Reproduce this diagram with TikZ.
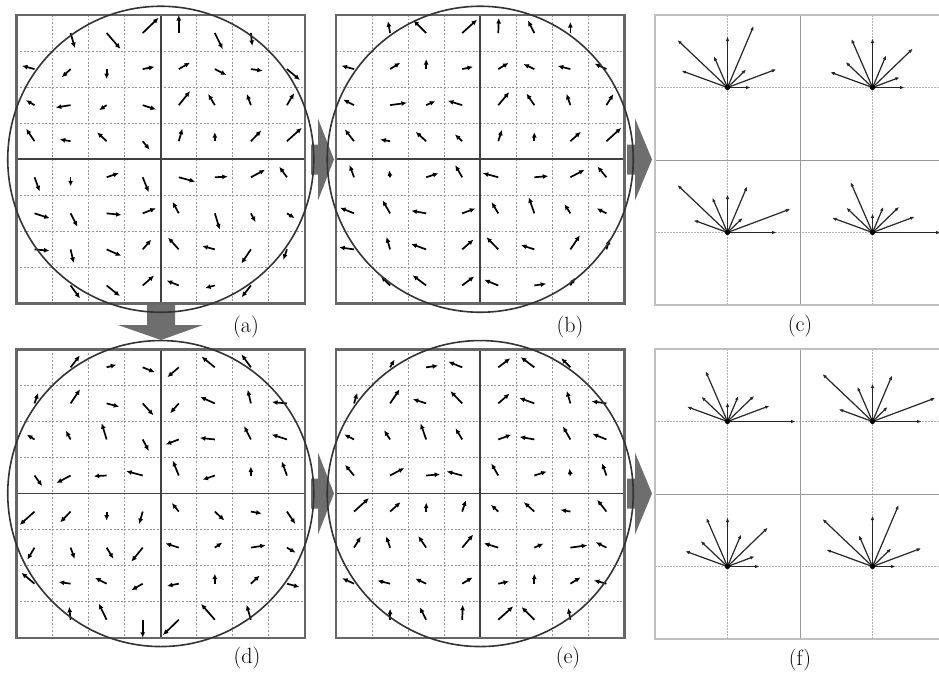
\documentclass[tikz,border=0pt]{standalone}
\usetikzlibrary{arrows.meta}
\begin{document}
\begin{tikzpicture}[x=1pt,y=-1pt,
  dotline/.style={draw=black!42,line width=1.1pt,dash pattern=on 1.8pt off 1.8pt},
  midline/.style={draw=black!75,line width=1.6pt},
  frameline/.style={draw=black!60,line width=2.4pt},
  bigcircle/.style={draw=black!80,line width=1.6pt},
  gridarrow/.style={draw=black,line width=1.7pt,-{Latex[length=5.5pt,width=5pt]}},
  histframe/.style={draw=black!25,line width=1.5pt},
  histmid/.style={draw=black!40,line width=1pt},
  histdash/.style={draw=black!30,line width=0.8pt,dash pattern=on 1.5pt off 1.5pt},
  histarrow/.style={draw=black!85,line width=1.2pt,-{Latex[length=4.5pt,width=3.5pt]}},
  histdot/.style={fill=black},
  bigarrow/.style={fill=black!57},
  lbl/.style={font=\fontsize{22}{26}\selectfont,inner sep=0pt}]
\useasboundingbox (0,0) rectangle (939,678);

\newcommand\mygridpanel[2]{%
  \foreach \i in {1,2,3,5,6,7}{
    \draw[dotline] ({#1+\i*36.06},#2) -- ++(0,288.5);
    \draw[dotline] (#1,{#2+\i*36.06}) -- ++(288.5,0);
  }
  \draw[midline] ({#1+144.25},#2) -- ++(0,288.5);
  \draw[midline] (#1,{#2+144.25}) -- ++(288.5,0);
  \draw[frameline] (#1,#2) rectangle ++(288.5,288.5);
}
\newcommand\myhistpanel[2]{%
  \foreach \i in {72.5,217.5}{
    \draw[histdash] ({#1+\i},#2) -- ++(0,290);
    \draw[histdash] (#1,{#2+\i}) -- ++(290,0);
  }
  \draw[histmid] ({#1+145},#2) -- ++(0,290);
  \draw[histmid] (#1,{#2+145}) -- ++(290,0);
  \draw[histframe] (#1,#2) rectangle ++(290,290);
}
\newcommand\myhiststar[9]{%
  \draw[histarrow] #1 -- ++(0:#2 pt);
  \draw[histarrow] #1 -- ++(20.5:#3 pt);
  \draw[histarrow] #1 -- ++(44:#4 pt);
  \draw[histarrow] #1 -- ++(67:#5 pt);
  \draw[histarrow] #1 -- ++(90:#6 pt);
  \draw[histarrow] #1 -- ++(113.5:#7 pt);
  \draw[histarrow] #1 -- ++(136.5:#8 pt);
  \draw[histarrow] #1 -- ++(160:#9 pt);
  \fill[histdot] #1 circle[radius=2.6];
}
% right-pointing fat arrow: shaft start, head base, tip, centre y
\newcommand\myfatarrow[4]{%
  \fill[bigarrow] (#1,{#4-15}) -- (#2,{#4-15}) -- (#2,{#4-41}) -- (#3,#4) -- (#2,{#4+41}) -- (#2,{#4+15}) -- (#1,{#4+15}) -- cycle;
}

\def\arrowsA{1/2/-74/15.6, 1/3/-49/21, 1/4/44/22, 1/5/90/18, 1/6/-64/18, 1/7/-84/13,
 2/1/165/13, 2/2/-137/12, 2/3/-90/10, 2/4/11/12, 2/5/30/13, 2/6/-27/13, 2/7/-8/12, 2/8/-40/17,
 3/1/150/10, 3/2/189/15, 3/3/-146/9, 3/4/-18/14, 3/5/51/18, 3/6/121/13, 3/7/110/12, 3/8/59/14,
 4/1/124/15, 4/2/170/11, 4/3/137/13, 4/4/-51/11, 4/5/74/13, 4/6/90/9, 4/7/46/15, 4/8/42/20,
 5/1/-70/15, 5/2/-90/9, 5/3/19/13, 5/4/-68/16, 5/5/-15/17, 5/6/3/13, 5/7/28/16, 5/8/126/13,
 6/1/-18/16, 6/2/-63/15, 6/3/-6/15, 6/4/21/14, 6/5/118/13, 6/6/-73/17, 6/7/-62/10, 6/8/-32/9,
 7/1/-5/15, 7/2/-77/14, 7/3/-24/16, 7/4/49/13, 7/5/132/16, 7/6/165/13, 7/7/-124/17, 7/8/-109/11,
 8/2/-54/16, 8/3/-39/17, 8/4/41/15, 8/5/158/13, 8/6/195/10, 8/7/-128/15}
\def\arrowsB{1/2/100/12, 1/3/135/18, 1/4/42/20, 1/5/88/15, 1/6/117/14, 1/7/90/11,
 2/1/165/13, 2/2/32/12, 2/3/90/10, 2/4/12/11, 2/5/31/12, 2/6/155/12, 2/7/166/13, 2/8/155/13,
 3/1/153/12, 3/2/8/17, 3/3/24/10, 3/4/163/15, 3/5/50/17, 3/6/124/14, 3/7/109/12, 3/8/58/13,
 4/1/128/15, 4/2/170/10, 4/3/138/14, 4/4/137/10, 4/5/72/12, 4/6/90/9, 4/7/42/14, 4/8/42/20,
 5/1/110/13, 5/2/97/7, 5/3/18/13, 5/4/120/14, 5/5/165/16, 5/6/5/14, 5/7/28/16, 5/8/130/14,
 6/1/158/15, 6/2/120/15, 6/3/170/15, 6/4/20/14, 6/5/121/13, 6/6/109/17, 6/7/123/11, 6/8/153/11,
 7/1/172/15, 7/2/106/13, 7/3/160/16, 7/4/41/15, 7/5/134/17, 7/6/162/14, 7/7/56/17, 7/8/73/11,
 8/2/135/13, 8/3/143/17, 8/4/37/15, 8/5/158/15, 8/6/8/12, 8/7/60/9}

% big gray arrows (under everything)
\myfatarrow{311}{318}{334}{159.5}
\myfatarrow{627}{635}{652}{159.5}
\myfatarrow{311}{318}{334}{493.5}
\myfatarrow{627}{635}{652}{493.5}
\fill[bigarrow] (147,305) -- (175,305) -- (175,325) -- (203,325) -- (161,340) -- (118,325) -- (147,325) -- cycle;

% grids
\mygridpanel{16.5}{15}
\mygridpanel{336}{15}
\mygridpanel{16.5}{349.3}
\mygridpanel{336}{349.3}

% arrows (a)
\foreach \r/\c/\a/\l in \arrowsA {
  \draw[gridarrow] ({16.5+(\c-0.5)*36.06},{15+(\r-0.5)*36.06}) -- ++(\a:\l pt);
}
% arrows (d): (a) turned by 180 degrees
\foreach \r/\c/\a/\l in \arrowsA {
  \draw[gridarrow] ({16.5+(8.5-\c)*36.06},{349.3+(8.5-\r)*36.06}) -- ++({\a+180}:\l pt);
}
% arrows (b)
\foreach \r/\c/\a/\l in \arrowsB {
  \draw[gridarrow] ({336+(\c-0.5)*36.06},{15+(\r-0.5)*36.06}) -- ++(\a:\l pt);
}
% arrows (e)
\foreach \r/\c/\a/\l in \arrowsB {
  \draw[gridarrow] ({336+(8.5-\c)*36.06},{349.3+(8.5-\r)*36.06}) -- ++(\a:\l pt);
}

% circles
\draw[bigcircle] (160.75,159.25) circle[radius=153];
\draw[bigcircle] (480.25,159.25) circle[radius=153];
\draw[bigcircle] (160.75,493.55) circle[radius=153];
\draw[bigcircle] (480.25,493.55) circle[radius=153];

% histogram panels
\myhistpanel{655}{15}
\myhistpanel{655}{349}
\myhiststar{(727.5,87.5)}{23}{52}{26}{67}{51}{34}{69}{49}
\myhiststar{(872.5,87.5)}{32}{29}{56}{35}{49}{53}{37}{45}
\myhiststar{(727.5,232.5)}{49}{67}{21}{50}{38}{38}{69}{36}
\myhiststar{(872.5,232.5)}{68}{45}{37}{28}{19}{55}{36}{43}
\myhiststar{(727.5,421.5)}{68}{45}{37}{28}{19}{55}{36}{43}
\myhiststar{(872.5,421.5)}{49}{67}{21}{50}{38}{38}{69}{36}
\myhiststar{(727.5,566.5)}{32}{29}{56}{35}{49}{53}{37}{45}
\myhiststar{(872.5,566.5)}{23}{52}{26}{67}{51}{34}{69}{49}

% labels
\node[lbl] (la) at (246,327) {(a)};
\node[lbl] (lb) at (570,327) {(b)};
\node[lbl] (lc) at (800,326) {(c)};
\node[lbl] (ld) at (247,658) {(d)};
\node[lbl] (le) at (568,658) {(e)};
\node[lbl] (lf) at (800,660) {(f)};
\end{tikzpicture}
\end{document}
